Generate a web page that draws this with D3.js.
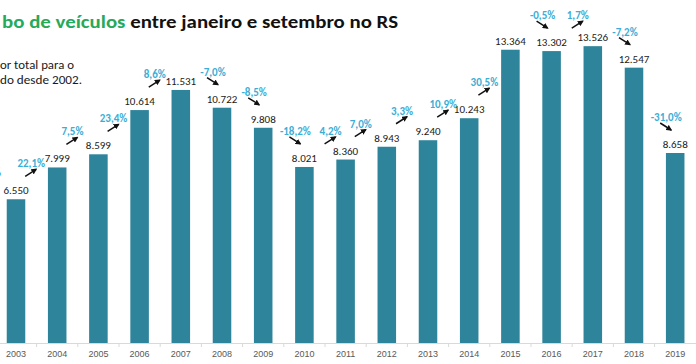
<!DOCTYPE html>
<html>
<meta charset="utf-8">
<title>Roubo de veículos</title>
<style>
  html, body { margin: 0; padding: 0; background: #fff; }
  svg { display: block; font-family: Carlito, Lato, "Open Sans", sans-serif; }
  .val { font-size: 11px; fill: #1a1a1a; text-anchor: middle; }
  .pct { font-size: 11px; fill: #3aaed6; font-weight: bold; text-anchor: middle; }
  .year text { font-size: 9px; fill: #595959; }
</style>
<body>
<div id="chart"></div>
<script src="https://cdn.jsdelivr.net/npm/d3@7"></script>
<script>
// 2002 sits left of the visible area (cropped in the original)
var years = [2002, 2003, 2004, 2005, 2006, 2007, 2008, 2009, 2010, 2011,
             2012, 2013, 2014, 2015, 2016, 2017, 2018, 2019];
var values = [6150, 6550, 7999, 8599, 10614, 11531, 10722, 9808, 8021, 8360,
              8943, 9240, 10243, 13364, 13302, 13526, 12547, 8658];
var changes = [null, 6.5, 22.1, 7.5, 23.4, 8.6, -7.0, -8.5, -18.2, 4.2,
               7.0, 3.3, 10.9, 30.5, -0.5, 1.7, -7.2, -31.0];

var width = 696, height = 364, base = 343;

var svg = d3.select("#chart").append("svg")
    .attr("width", width)
    .attr("height", height);

var x = d3.scaleBand()
    .domain(years)
    .range([-45.8, 695.8])
    .paddingInner(0.55)
    .paddingOuter(0.275);

var y = d3.scaleLinear()
    .domain([0, 15630])
    .range([base, 0]);

var fmtNum = function(v) { return d3.format(",")(v).replace(/,/g, "."); };
var fmtPct = function(v) { return d3.format(".1f")(v).replace(".", ",").replace("−", "-") + "%"; };

svg.append("defs").append("marker")
    .attr("id", "head")
    .attr("viewBox", "0 0 10 10")
    .attr("refX", 8).attr("refY", 5)
    .attr("markerWidth", 4).attr("markerHeight", 4)
    .attr("orient", "auto")
  .append("path")
    .attr("d", "M0,0L10,5L0,10z")
    .attr("fill", "#111");

// title
var title = svg.append("text")
    .attr("x", 2).attr("y", 28)
    .attr("font-size", 19)
    .attr("font-weight", "bold")
    .attr("textLength", 396)
    .attr("lengthAdjust", "spacingAndGlyphs");
title.append("tspan").attr("fill", "#27a95a").text("bo de veículos");
title.append("tspan").attr("fill", "#111").text(" entre janeiro e setembro no RS");

var sub = svg.append("g").attr("font-size", 12.5).attr("fill", "#1a1a1a");
sub.append("text").attr("x", 0).attr("y", 69).attr("textLength", 74)
    .attr("lengthAdjust", "spacingAndGlyphs").text("or total para o");
sub.append("text").attr("x", 0).attr("y", 84).attr("textLength", 82)
    .attr("lengthAdjust", "spacingAndGlyphs").text("do desde 2002.");

var data = years.map(function(yr, i) {
    return {year: yr, value: values[i], change: changes[i],
            prev: i > 0 ? values[i - 1] : null,
            prevChange: i > 0 ? changes[i - 1] : null};
});

// axis
var axis = svg.append("g")
    .attr("class", "year")
    .attr("transform", "translate(0," + base + ")")
    .call(d3.axisBottom(x).tickSize(0).tickPadding(8));
axis.select(".domain").attr("stroke", "#d9d9d9");
axis.selectAll("text").attr("font-family", null);
axis.selectAll(".sep")
    .data(years)
    .enter().append("line")
    .attr("class", "sep")
    .attr("x1", function(d) { return x(d) - x.step() * x.paddingInner() / 2; })
    .attr("x2", function(d) { return x(d) - x.step() * x.paddingInner() / 2; })
    .attr("y1", 0).attr("y2", 4)
    .attr("stroke", "#d9d9d9");

// bars
svg.append("g").selectAll("rect")
    .data(data)
    .enter().append("rect")
    .attr("x", function(d) { return x(d.year); })
    .attr("y", function(d) { return y(d.value); })
    .attr("width", x.bandwidth())
    .attr("height", function(d) { return base - y(d.value); })
    .attr("fill", "#2e849b");

svg.append("g").selectAll("text")
    .data(data)
    .enter().append("text")
    .attr("class", "val")
    .attr("x", function(d) { return x(d.year) + x.bandwidth() / 2; })
    .attr("y", function(d) { return y(d.value) - 5; })
    .text(function(d) { return fmtNum(d.value); });

// change labels with arrows: rises sit at the previous bar's level, falls over the new bar
var ch = data.filter(function(d) { return d.change !== null; });
function lx(d) {
    var off = d.change > 0 ? (d.prevChange < 0 ? -15 : -26) : -9;
    return x(d.year) + x.bandwidth() / 2 + off;
}
function ly(d) { return (d.change > 0 ? y(d.prev) : y(d.value)) - 36; }

var cg = svg.append("g").selectAll("g")
    .data(ch)
    .enter().append("g");

cg.append("text")
    .attr("class", "pct")
    .attr("x", lx)
    .attr("y", function(d) { return ly(d) + 4; })
    .text(function(d) { return fmtPct(d.change); });

cg.append("line")
    .attr("x1", function(d) { return lx(d) - 6; })
    .attr("x2", function(d) { return lx(d) + 5; })
    .attr("y1", function(d) { return ly(d) + (d.change > 0 ? 13 : 6); })
    .attr("y2", function(d) { return ly(d) + (d.change > 0 ? 6 : 13); })
    .attr("stroke", "#111")
    .attr("stroke-width", 1.5)
    .attr("marker-end", "url(#head)");
</script>
</body>
</html>
